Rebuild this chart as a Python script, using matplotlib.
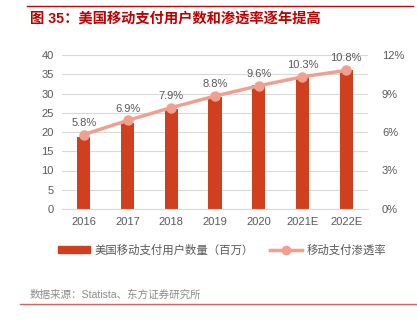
import matplotlib.pyplot as plt
from matplotlib.lines import Line2D
from matplotlib.patches import Patch

plt.rcParams['font.family'] = ['Liberation Sans', 'Noto Sans CJK SC']

# 数据
years = ['2016', '2017', '2018', '2019', '2020', '2021E', '2022E']
users = [18.8, 22.4, 25.9, 29.2, 32.2, 34.2, 36.1]   # 百万
rate = [5.8, 6.9, 7.9, 8.8, 9.6, 10.3, 10.8]         # %

BAR_COLOR = '#D0401E'
LINE_COLOR = '#F0A090'
GRAY = '#595959'
TITLE_RED = '#C00000'

fig = plt.figure(figsize=(4.17, 3.23), dpi=100)

# 顶部、底部红线
fig.add_artist(Line2D([27/417, 413/417], [1-6/323, 1-6/323], color='#D00000', lw=1.0))
fig.add_artist(Line2D([20/417, 1.0], [1-304/323, 1-304/323], color='#E06060', lw=1.0))

fig.text(30/417, 1-18.5/323, '图 35：美国移动支付用户数和渗透率逐年提高',
         color=TITLE_RED, fontsize=10.3, fontweight='bold', va='center', ha='left')

ax = fig.add_axes([62/417, 1-209/323, 306/417, 154/323])
x = range(len(years))
ax.bar(x, users, width=0.3, color=BAR_COLOR, zorder=2)
ax.set_ylim(0, 40)
ax.set_yticks(range(0, 41, 5))
ax.set_xlim(-0.5, 6.5)
ax.set_xticks(list(x))
ax.set_xticklabels(years)
ax.grid(axis='y', color='#D9D9D9', lw=0.8, zorder=0)
for s in ['top', 'left', 'right']:
    ax.spines[s].set_visible(False)
ax.spines['bottom'].set_color('#D9D9D9')
ax.tick_params(axis='both', length=0, labelsize=8, colors=GRAY, pad=6)

ax2 = ax.twinx()
ax2.plot(x, rate, color=LINE_COLOR, lw=2.5, marker='o', ms=6.5, zorder=3)
ax2.set_ylim(0, 12)
ax2.set_yticks(range(0, 13, 3))
ax2.set_yticklabels([f'{v}%' for v in range(0, 13, 3)])
for s in ['top', 'left', 'right', 'bottom']:
    ax2.spines[s].set_visible(False)
ax2.tick_params(axis='y', length=0, labelsize=8, colors=GRAY, pad=10)
for xi, r in zip(x, rate):
    ax2.annotate(f'{r}%', (xi, r), xytext=(0, 5), textcoords='offset points',
                 ha='center', va='bottom', fontsize=8, color=GRAY)

handles = [Patch(color=BAR_COLOR),
           Line2D([], [], color=LINE_COLOR, lw=2.5, marker='o', ms=6)]
labels = ['美国移动支付用户数量（百万）', '移动支付渗透率']
fig.legend(handles, labels, loc='center', bbox_to_anchor=(222/417, 1-250/323), ncol=2,
           frameon=False, fontsize=8.2, labelcolor=GRAY, handlelength=2.8,
           handleheight=0.5, columnspacing=1.4, handletextpad=0.4)

fig.text(30/417, 1-295/323, '数据来源：Statista、东方证券研究所',
         color='#8C8C8C', fontsize=7.6, va='center', ha='left')

fig.savefig('out.png', dpi=100)
